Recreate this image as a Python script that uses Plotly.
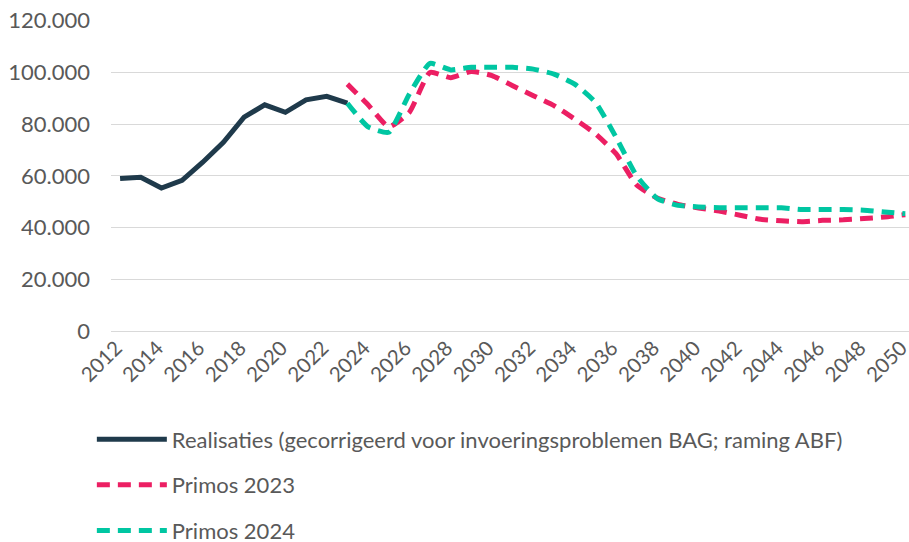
import plotly.graph_objects as go

years_real = list(range(2012, 2024))
realisaties = [59000, 59500, 55300, 58300, 65300, 73000, 82700, 87500, 84600, 89400, 90800, 88100]

years_proj = list(range(2023, 2051))
primos2023 = [95500, 87500, 79000, 84600, 100000, 98000, 100400, 98800, 94900, 91000, 87200, 82000,
              76300, 68600, 56500, 51400, 49000, 47600, 46400, 44800, 43200, 42600, 42300, 42800,
              43000, 43500, 44100, 45000]
primos2024 = [88100, 79000, 76900, 91700, 103500, 101000, 102000, 102000, 102000, 101300, 99400, 95500,
              88500, 75000, 60000, 51200, 48600, 48000, 47700, 47700, 47700, 47700, 47000, 47000,
              47000, 46700, 46000, 45400]

names = ["Realisaties (gecorrigeerd voor invoeringsproblemen BAG; raming ABF)", "Primos 2023", "Primos 2024"]
colors = ["#1F3A4B", "#EC1F63", "#00C6A2"]

fig = go.Figure()
fig.add_trace(go.Scatter(x=years_real, y=realisaties, name=names[0], mode="lines",
                         line=dict(color=colors[0], width=5, shape="linear"),
                         legendgroup="a"))
fig.add_trace(go.Scatter(x=years_proj, y=primos2023, name=names[1], mode="lines",
                         line=dict(color=colors[1], width=5, dash="13px,8px", shape="spline", smoothing=0.5),
                         legendgroup="b"))
fig.add_trace(go.Scatter(x=years_proj, y=primos2024, name=names[2], mode="lines",
                         line=dict(color=colors[2], width=5, dash="13px,8px", shape="spline", smoothing=0.5),
                         legendgroup="c"))

font_family = "Lato, 'Open Sans', sans-serif"
fs = 22
fig.update_layout(
    width=909, height=542,
    margin=dict(l=111, r=0, t=20, b=211, autoexpand=False),
    paper_bgcolor="white", plot_bgcolor="white",
    separators=",.",
    font=dict(family=font_family, size=fs, color="#595959"),
    showlegend=True,
    legend=dict(x=-0.024, y=-0.281, xanchor="left", yanchor="top", orientation="v",
                traceorder="grouped", tracegroupgap=14, itemwidth=70,
                font=dict(family=font_family, size=fs, color="#595959"),
                bgcolor="rgba(0,0,0,0)"),
    xaxis=dict(range=[2011.56, 2050.18], tickmode="linear", tick0=2012, dtick=2,
               tickangle=-45, showgrid=False, zeroline=False, showline=False,
               ticks="", automargin=False, ticklabeloverflow="allow",
               ticklabelshift=-4,
               tickfont=dict(size=20.5, color="#595959")),
    yaxis=dict(range=[0, 120300], tickmode="linear", tick0=0, dtick=20000,
               tickformat=",d", showgrid=True, gridcolor="#D9D9D9", gridwidth=1,
               zeroline=True, zerolinecolor="#D9D9D9", zerolinewidth=1,
               showline=False, ticks="", ticklabelstandoff=20, automargin=False,
               ticklabeloverflow="allow",
               tickfont=dict(size=fs, color="#595959")),
)

fig.write_html("out.html", config={"displayModeBar": False},
               post_script="document.body.style.margin='0';")
